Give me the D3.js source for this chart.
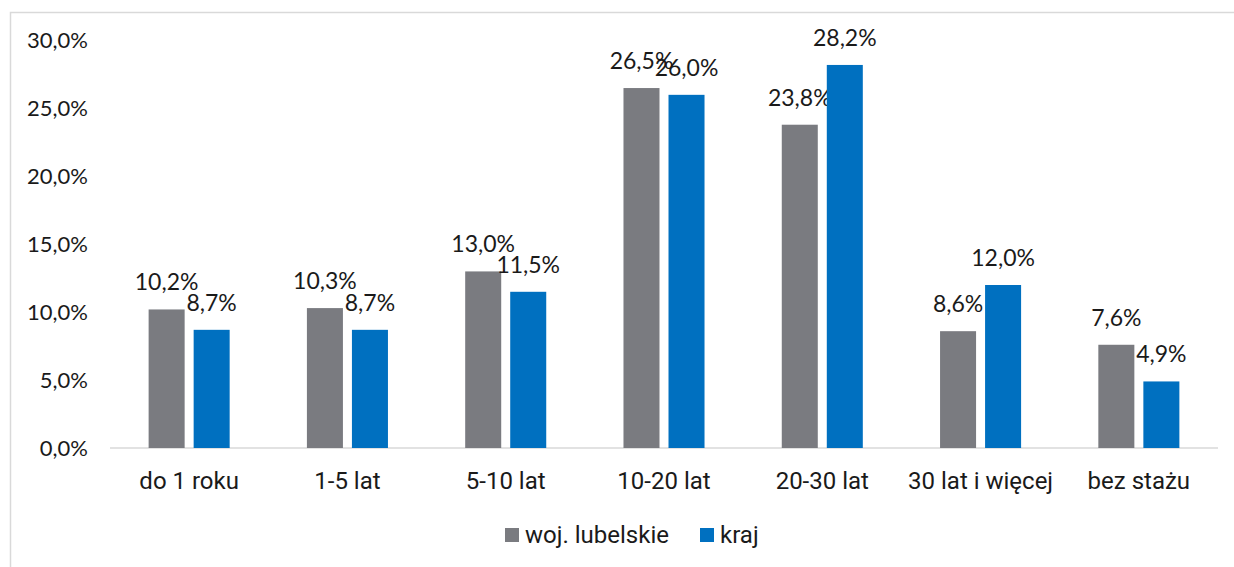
<!DOCTYPE html>
<html>
<head>
<meta charset="utf-8">
<script src="https://cdn.jsdelivr.net/npm/d3@7"></script>
<style>
  body { margin: 0; background: #fff; }
</style>
</head>
<body>
<div class="chart-wrap"></div>
<script>
// dane
const categories = ["do 1 roku", "1-5 lat", "5-10 lat", "10-20 lat", "20-30 lat", "30 lat i więcej", "bez stażu"];
const seriesNames = ["woj. lubelskie", "kraj"];
const lubelskie = [10.2, 10.3, 13.0, 26.5, 23.8, 8.6, 7.6];
const kraj = [8.7, 8.7, 11.5, 26.0, 28.2, 12.0, 4.9];
const yTicks = [0, 5, 10, 15, 20, 25, 30];
const colors = ["#7a7b80", "#0070c0"];

const width = 1234;
const height = 567;
const fmt = v => v.toFixed(1).replace(".", ",") + "%";

const svg = d3
  .select(".chart-wrap")
  .append("svg")
  .attr("width", width)
  .attr("height", height);

// ramka
svg.append("path")
  .attr("d", `M10.5,${height} V12.5 H${width}`)
  .attr("fill", "none")
  .attr("stroke", "#d9d9d9")
  .attr("stroke-width", 1.5);

const x = d3.scaleBand()
  .domain(categories)
  .range([110, 1218])
  .paddingInner(0.488)
  .paddingOuter(0.244);

const xInner = d3.scaleBand()
  .domain([0, 1])
  .range([0, x.bandwidth()])
  .paddingInner(0.2);

const y = d3.scaleLinear()
  .domain([0, 30])
  .range([448, 40.5]);

// oś Y - tylko etykiety
const yAxis = svg.append("g")
  .attr("transform", "translate(88,0)")
  .call(d3.axisLeft(y).tickValues(yTicks).tickFormat(fmt).tickSize(0).tickPadding(0));
yAxis.select(".domain").remove();
yAxis.selectAll("text")
  .attr("font-family", "Lato, 'Open Sans', sans-serif")
  .attr("font-size", 22)
  .attr("fill", "#1a1a1a");

// linia bazowa
svg.append("line")
  .attr("x1", 110).attr("x2", 1218)
  .attr("y1", y(0)).attr("y2", y(0))
  .attr("stroke", "#d9d9d9")
  .attr("stroke-width", 1.5);

const series = [lubelskie, kraj];

series.forEach((values, s) => {
  const g = svg.append("g");
  g.selectAll("rect")
    .data(values)
    .enter()
    .append("rect")
    .attr("x", (d, i) => x(categories[i]) + xInner(s))
    .attr("y", d => y(d))
    .attr("width", xInner.bandwidth())
    .attr("height", d => y(0) - y(d))
    .attr("fill", colors[s]);

  // etykiety danych
  g.selectAll("text")
    .data(values)
    .enter()
    .append("text")
    .attr("x", (d, i) => x(categories[i]) + xInner(s) + xInner.bandwidth() / 2)
    .attr("y", d => y(d) - 19)
    .attr("text-anchor", "middle")
    .attr("font-family", "Lato, 'Open Sans', sans-serif")
    .attr("font-size", 23)
    .attr("fill", "#1a1a1a")
    .text(d => fmt(d));
});

// oś X - etykiety kategorii
const xAxis = svg.append("g")
  .attr("transform", `translate(0,${y(0)})`)
  .call(d3.axisBottom(x).tickSize(0).tickPadding(0));
xAxis.select(".domain").remove();
xAxis.selectAll("text")
  .attr("dy", null)
  .attr("y", 41)
  .attr("font-family", "Roboto, sans-serif")
  .attr("font-size", 24)
  .attr("fill", "#1a1a1a");

// legenda
const legendX = [505, 700];
const legend = svg.append("g");
seriesNames.forEach((name, s) => {
  legend.append("rect")
    .attr("x", legendX[s])
    .attr("y", 528)
    .attr("width", 14)
    .attr("height", 14)
    .attr("fill", colors[s]);
  legend.append("text")
    .attr("x", legendX[s] + 20)
    .attr("y", 543)
    .attr("font-family", "Roboto, sans-serif")
    .attr("font-size", 24)
    .attr("fill", "#1a1a1a")
    .text(name);
});
</script>
</body>
</html>
